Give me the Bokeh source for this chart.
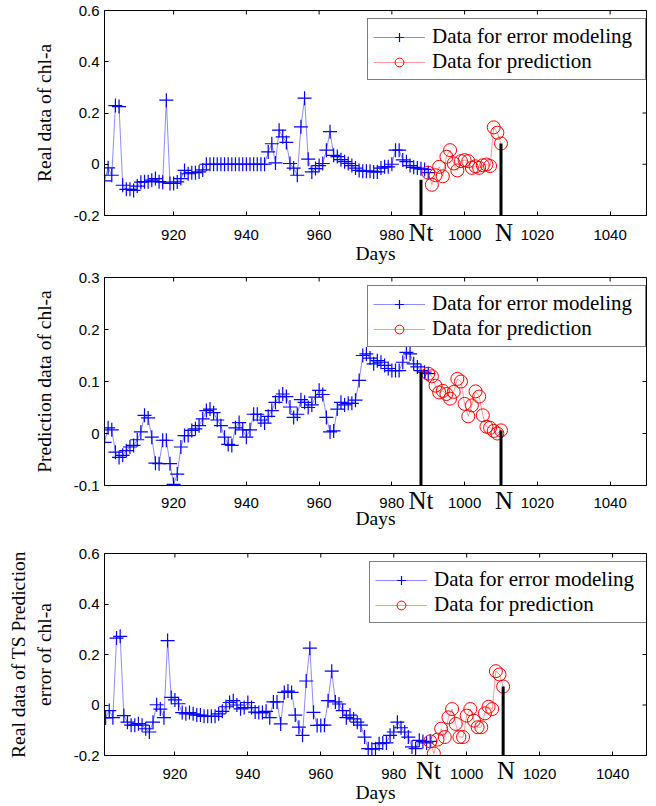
import math
from bokeh.plotting import figure
from bokeh.layouts import column
from bokeh.models import (FixedTicker, CustomJSTickFormatter, LinearAxis,
                          Legend, LegendItem, Range1d, ColumnDataSource)
from bokeh.embed import file_html
from bokeh.resources import INLINE

# ---------------- data ----------------
x_ticks = [920, 940, 960, 980, 1000, 1020, 1040]
model_start_day = 901
pred_start_day = 990
Nt_day = 988
N_day = 1010

p1_model = [-0.065, -0.014, -0.043, 0.229, 0.225, -0.082, -0.098, -0.098, -0.102, -0.085,
            -0.070, -0.068, -0.068, -0.062, -0.056, -0.068, -0.070, 0.250, -0.075, -0.075,
            -0.069, -0.056, -0.024, -0.037, -0.033, -0.033, -0.030, -0.022,
            0.0, 0.0, 0.0, 0.0, 0.0, 0.0, 0.0, 0.0, 0.0, 0.0, 0.0, 0.0, 0.0, 0.0, 0.0, 0.0, 0.0,
            0.048, 0.080, 0.005, 0.133, 0.107, 0.085, 0.003, -0.015, -0.043, 0.146,
            0.258, 0.020, -0.030, -0.017, -0.005, 0.003, 0.055, 0.127, 0.035, 0.030,
            0.018, 0.010, 0.003, -0.005, -0.015, -0.024, -0.027, -0.027, -0.027, -0.030,
            -0.030, -0.015, -0.010, -0.010, 0.000, 0.055, 0.055, 0.017, 0.010, -0.005,
            -0.012, -0.015, -0.018, -0.020, -0.033]
p1_pred = [-0.033, -0.080, -0.043, -0.010, -0.047, 0.029, 0.055, 0.003, -0.024, 0.012,
           0.016, 0.012, -0.014, -0.008, -0.014, -0.004, -0.001, -0.007, 0.144, 0.123, 0.081]

p2_model = [-0.017, 0.011, 0.007, -0.036, -0.046, -0.042, -0.033, -0.026, -0.023, -0.012,
            0.003, 0.035, 0.030, -0.007, -0.057, -0.058, -0.013, -0.013, -0.058, -0.098,
            -0.078, -0.026, -0.004, -0.004, 0.006, 0.009, 0.015, 0.028, 0.044, 0.047,
            0.040, 0.026, 0.015, -0.007, -0.021, -0.023, 0.011, 0.021, 0.007, -0.007,
            0.007, 0.037, 0.037, 0.026, 0.020, 0.033, 0.044, 0.060, 0.071, 0.076,
            0.071, 0.051, 0.031, 0.037, 0.065, 0.060, 0.050, 0.055, 0.070, 0.083,
            0.075, 0.031, 0.003, 0.005, 0.047, 0.060, 0.055, 0.058, 0.058, 0.064,
            0.102, 0.150, 0.153, 0.145, 0.134, 0.140, 0.137, 0.131, 0.125, 0.121,
            0.121, 0.121, 0.137, 0.156, 0.153, 0.134, 0.128, 0.121, 0.118, 0.115]
p2_pred = [0.115, 0.110, 0.092, 0.079, 0.082, 0.076, 0.067, 0.080, 0.105, 0.100,
           0.057, 0.033, 0.054, 0.081, 0.071, 0.035, 0.013, 0.011, 0.005, 0.000, 0.006]

p3_model = [-0.051, -0.022, -0.050, 0.265, 0.272, -0.042, -0.068, -0.080, -0.080, -0.074,
            -0.080, -0.094, -0.107, -0.068, 0.001, -0.016, -0.050, 0.255, 0.030, 0.020,
            0.005, -0.030, -0.035, -0.030, -0.035, -0.040, -0.040, -0.045, -0.045, -0.045,
            -0.045, -0.035, -0.025, -0.007, 0.010, 0.017, 0.000, -0.015, -0.010, 0.010,
            -0.010, -0.028, -0.030, -0.030, -0.025, -0.050, 0.012, 0.012, -0.075, 0.050,
            0.055, 0.050, -0.040, -0.088, -0.120, 0.095, 0.225, -0.029, -0.081, -0.081,
            -0.080, 0.017, 0.134, 0.012, 0.004, -0.022, -0.050, -0.040, -0.055, -0.068,
            -0.080, -0.127, -0.173, -0.175, -0.173, -0.153, -0.150, -0.150, -0.120, -0.107,
            -0.068, -0.090, -0.107, -0.127, -0.166, -0.173, -0.140, -0.145, -0.150, -0.144]
p3_pred = [-0.144, -0.192, -0.137, -0.094, -0.127, -0.049, -0.016, -0.075, -0.127, -0.127,
           -0.042, -0.016, -0.062, -0.088, -0.088, -0.033, -0.007, -0.016, 0.134, 0.121, 0.073]

p1_yticks = [-0.2, 0, 0.2, 0.4, 0.6]
p2_yticks = [-0.1, 0, 0.1, 0.2, 0.3]
p3_yticks = [-0.2, 0, 0.2, 0.4, 0.6]

# values reached by the black marker lines at Nt and N
p1_marks = {"Nt": -0.06, "N": 0.081}
p2_marks = {"Nt": 0.118, "N": 0.006}
p3_marks = {"Nt": None, "N": 0.073}

labels = ["Data for error modeling", "Data for prediction"]
ylabels = ["Real data of chl-a", "Prediction data of chl-a",
           "Real data of TS Prediction\nerror of chl-a"]

SERIF = "Liberation Serif"
SANS = "Liberation Sans"

W = 648
LEFT = 102
FRAME_W = 544
LEG_W, LEG_H = 277, 60

yfmt = CustomJSTickFormatter(code="return String(Number(tick.toFixed(2)));")


def make_panel(model, pred, yticks, marks, ylabel, xr, height, top_border, bottom_border,
               left_border, nt_label_day, leg_top_gap, leg_right_gap,
               tick_standoff, days_standoff, mark_standoff):
    frame_h = height - top_border - bottom_border
    p = figure(width=W, height=height, x_range=Range1d(*xr),
               y_range=Range1d(yticks[0], yticks[-1]),
               output_backend="svg", toolbar_location=None,
               min_border_top=top_border, min_border_left=left_border,
               min_border_right=W - left_border - FRAME_W, min_border_bottom=bottom_border)
    p.grid.visible = False
    p.outline_line_color = "black"
    p.outline_line_alpha = 1
    p.background_fill_color = "white"
    p.border_fill_color = "white"

    model_days = list(range(model_start_day, model_start_day + len(model)))
    pred_days = list(range(pred_start_day, pred_start_day + len(pred)))
    sm = ColumnDataSource(dict(x=model_days, y=model))
    sp = ColumnDataSource(dict(x=pred_days, y=pred))

    # inward tick marks on the top and right edges of the box
    p.scatter(x=x_ticks, y=[yticks[-1]] * len(x_ticks), marker="dash", size=8,
              angle=math.pi / 2, line_color="black", line_width=1)
    p.scatter(x=[xr[1]] * len(yticks), y=yticks, marker="dash", size=8,
              line_color="black", line_width=1)

    bl = p.line("x", "y", source=sm, line_color="blue", line_alpha=0.45, line_width=1)
    bs = p.scatter("x", "y", source=sm, marker="cross", size=14, line_color="blue",
                   line_width=1.2)
    rl = p.line("x", "y", source=sp, line_color="red", line_alpha=0.4, line_width=1)
    rs = p.scatter("x", "y", source=sp, marker="circle", size=13, line_color="red",
                   fill_color=None, line_width=1)

    if marks["Nt"] is not None:
        p.segment(x0=[Nt_day], y0=[yticks[0]], x1=[Nt_day], y1=[marks["Nt"]],
                  line_color="black", line_width=3)
    p.segment(x0=[N_day], y0=[yticks[0]], x1=[N_day], y1=[marks["N"]],
              line_color="black", line_width=3)

    xa = p.xaxis[0]
    ya = p.yaxis[0]
    for ax in (xa, ya):
        ax.major_tick_in = 4
        ax.major_tick_out = 0
        ax.minor_tick_line_color = None
        ax.axis_line_color = "black"
        ax.major_tick_line_color = "black"
        ax.major_label_text_font = SANS
        ax.major_label_text_font_size = "15px"
        ax.major_label_text_color = "black"
        ax.axis_label_text_font = SERIF
        ax.axis_label_text_font_size = "19.5px"
        ax.axis_label_text_font_style = "normal"
        ax.axis_label_text_color = "black"
    xa.ticker = FixedTicker(ticks=x_ticks)
    ya.ticker = FixedTicker(ticks=yticks)
    ya.formatter = yfmt
    xa.axis_label = "Days"
    ya.axis_label = ylabel
    xa.major_label_standoff = tick_standoff
    xa.axis_label_standoff = days_standoff
    ya.major_label_standoff = 5
    ya.axis_label_standoff = 16

    # "Nt" and "N" marks, on a second bottom axis pulled up into the tick-label row
    nt_fmt = CustomJSTickFormatter(args=dict(nt=nt_label_day),
                                   code="return Math.abs(tick - nt) < 0.01 ? 'Nt' : 'N';")
    mark_axis = LinearAxis(ticker=FixedTicker(ticks=[nt_label_day, N_day + 0.8]),
                           formatter=nt_fmt, major_tick_in=0, major_tick_out=0,
                           minor_tick_line_color=None, axis_line_color=None,
                           major_tick_line_color=None,
                           major_label_text_font=SERIF, major_label_text_font_size="25px",
                           major_label_text_color="black",
                           major_label_standoff=mark_standoff)
    p.add_layout(mark_axis, "below")

    legend = Legend(items=[LegendItem(label=labels[0], renderers=[bl, bs]),
                           LegendItem(label=labels[1], renderers=[rl, rs])],
                    location=(FRAME_W - leg_right_gap - LEG_W, frame_h - leg_top_gap - LEG_H),
                    margin=0, padding=5, spacing=0,
                    glyph_width=52, glyph_height=22, label_standoff=7, label_width=208,
                    label_text_font=SERIF, label_text_font_size="21px",
                    label_text_color="black",
                    border_line_color="black", border_line_width=1,
                    background_fill_color="white", background_fill_alpha=1)
    p.add_layout(legend)
    return p


p1 = make_panel(p1_model, p1_pred, p1_yticks, p1_marks, ylabels[0], (901, 1050),
                268, 10, 53, LEFT, Nt_day, 10, 4, 14, 0, -48)
p2 = make_panel(p2_model, p2_pred, p2_yticks, p2_marks, ylabels[1], (901, 1050),
                270, 9, 53, LEFT + 2, Nt_day, 10, 4, 12, -3, -45)
p3 = make_panel(p3_model, p3_pred, p3_yticks, p3_marks, ylabels[2], (900.7, 1049.3),
                268, 15, 51, LEFT, Nt_day + 1.5, 10, 2, 13, 0, -49)

layout = column(p1, p2, p3, spacing=0)
open("out.html", "w").write(file_html(layout, INLINE))
